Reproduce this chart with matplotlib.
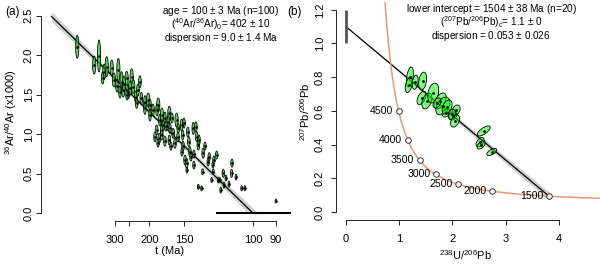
"""Ar-Ar inverse isochron (a) and Tera-Wasserburg common-Pb isochron (b)."""

import numpy as np
import matplotlib

matplotlib.use("Agg")
import matplotlib.pyplot as plt
from matplotlib.patches import Polygon

plt.rcParams["font.family"] = ["Liberation Sans", "DejaVu Sans"]
plt.rcParams["mathtext.fontset"] = "custom"
plt.rcParams["mathtext.rm"] = "Liberation Sans"
plt.rcParams["mathtext.it"] = "Liberation Sans:italic"
plt.rcParams["mathtext.bf"] = "Liberation Sans:bold"

W, H = 600, 264

# --- panel (a): 39Ar/40Ar (scaled so the 100 Ma intercept sits at 1) vs 36Ar/40Ar x1000
ar_x = [0.128, 0.212, 0.236, 0.262, 0.274, 0.299, 0.310, 0.332, 0.348, 0.356,
        0.373, 0.381, 0.398, 0.406, 0.419, 0.439, 0.446, 0.464, 0.480, 0.423,
        0.464, 0.489, 0.530, 0.538, 0.555, 0.585, 0.580, 0.588, 0.621, 0.629,
        0.646, 0.704, 0.717, 0.522, 0.514, 0.547, 0.535, 0.547, 0.585, 0.604,
        0.613, 0.651, 0.663, 0.671, 0.682, 0.687, 0.721, 0.707, 0.729, 0.753,
        0.750, 0.729, 0.745, 0.778, 0.783, 0.795, 0.803, 0.820, 0.828, 0.840,
        0.853, 0.894, 0.836, 0.856, 0.944, 1.114, 0.801, 0.653, 0.707, 0.866,
        0.881, 0.896, 0.960, 0.254, 0.360, 0.375, 0.390, 0.325, 0.340, 0.429,
        0.489, 0.504, 0.563, 0.598, 0.524, 0.548, 0.658, 0.568, 0.677, 0.628,
        0.593, 0.563, 0.529, 0.732, 0.762, 0.672, 0.692, 0.806, 0.916, 0.648]
ar_y = [2.105, 1.873, 1.987, 1.789, 1.852, 1.835, 1.684, 1.810, 1.662, 1.557,
        1.705, 1.535, 1.725, 1.599, 1.472, 1.662, 1.452, 1.409, 1.430, 1.389,
        1.325, 1.367, 1.367, 1.177, 1.114, 1.262, 1.156, 1.072, 1.177, 1.072,
        1.114, 1.072, 1.092, 1.051, 0.966, 0.987, 0.946, 1.051, 0.924, 1.009,
        0.882, 0.987, 0.671, 0.629, 0.903, 0.776, 0.966, 0.608, 0.861, 0.756,
        0.523, 0.333, 0.313, 0.649, 0.713, 0.418, 0.523, 0.734, 0.418, 0.291,
        0.503, 0.503, 0.418, 0.354, 0.313, 0.152, 0.608, 0.848, 0.747, 0.443,
        0.367, 0.633, 0.316, 1.709, 1.633, 1.494, 1.582, 1.608, 1.532, 1.557,
        1.241, 1.304, 1.203, 1.203, 1.304, 1.241, 1.139, 1.101, 1.025, 0.962,
        0.848, 0.911, 0.886, 0.924, 0.848, 0.544, 0.709, 0.671, 0.456, 0.772]
ar_sy = [0.146, 0.114, 0.203, 0.095, 0.127, 0.101, 0.089, 0.146, 0.127, 0.089,
         0.089, 0.089, 0.101, 0.089, 0.076, 0.076, 0.076, 0.076, 0.089, 0.063,
         0.076, 0.076, 0.089, 0.076, 0.076, 0.089, 0.076, 0.063, 0.089, 0.063,
         0.076, 0.076, 0.063, 0.063, 0.063, 0.063, 0.063, 0.063, 0.063, 0.063,
         0.063, 0.063, 0.063, 0.063, 0.063, 0.063, 0.063, 0.051, 0.063, 0.063,
         0.038, 0.032, 0.032, 0.051, 0.051, 0.032, 0.038, 0.051, 0.038, 0.038,
         0.051, 0.051, 0.032, 0.038, 0.032, 0.025, 0.038, 0.063, 0.051, 0.038,
         0.038, 0.051, 0.032, 0.076, 0.101, 0.063, 0.089, 0.076, 0.076, 0.076,
         0.076, 0.076, 0.076, 0.063, 0.076, 0.089, 0.063, 0.063, 0.063, 0.063,
         0.051, 0.063, 0.051, 0.063, 0.051, 0.038, 0.051, 0.051, 0.038, 0.051]
ar_sx = [0.008, 0.008, 0.008, 0.008, 0.008, 0.008, 0.008, 0.008, 0.008, 0.008,
         0.008, 0.008, 0.008, 0.008, 0.0065, 0.0065, 0.0065, 0.0065, 0.008, 0.0065,
         0.0065, 0.0065, 0.008, 0.0065, 0.0065, 0.008, 0.0065, 0.0065, 0.008, 0.0065,
         0.0065, 0.0065, 0.0065, 0.0065, 0.0065, 0.0065, 0.0065, 0.0065, 0.0065, 0.0065,
         0.0065, 0.0065, 0.0065, 0.0065, 0.0065, 0.0065, 0.0065, 0.006, 0.0065, 0.0065,
         0.0045, 0.0045, 0.0045, 0.006, 0.006, 0.0045, 0.0045, 0.006, 0.0045, 0.0045,
         0.006, 0.006, 0.0045, 0.0045, 0.0045, 0.004, 0.0045, 0.0065, 0.006, 0.0045,
         0.0045, 0.006, 0.0045, 0.0065, 0.008, 0.0065, 0.008, 0.0065, 0.0065, 0.0065,
         0.0065, 0.0065, 0.0065, 0.0065, 0.0065, 0.008, 0.0065, 0.0065, 0.0065, 0.0065,
         0.006, 0.0065, 0.006, 0.0065, 0.006, 0.0045, 0.006, 0.006, 0.0045, 0.006]

AR_AGE = 100.0          # isochron age, Ma
AR_Y0 = 1000.0 / 402.0  # 36/40 intercept (x1000)
AR_BAND = (0.025, 0.116, 0.5)  # min half-width, growth, centre
AR_DISP_BAR = 0.822     # left end of the dispersion bar on the x-axis
LAMBDA_40K = 5.543e-4
age_ticks = [300, 250, 200, 150, 100, 90]
age_labels = ["300", "", "200", "150", "100", "90"]
ar_notes = [
    r"age = 100 $\pm$ 3 Ma (n=100)",
    r"($^{40}$Ar/$^{36}$Ar$)_{\mathrm{0}}$= 402 $\pm$ 10",
    r"dispersion = 9.0 $\pm$ 1.4 Ma",
]

# --- panel (b): Tera-Wasserburg
tw_x = [1.20, 1.18, 1.44, 1.42, 1.52, 1.64, 1.77, 1.82, 1.88, 2.07,
        2.01, 2.05, 2.59, 2.52, 2.54, 2.74, 1.71, 1.90, 1.30, 1.99]
tw_y = [0.801, 0.754, 0.777, 0.677, 0.659, 0.706, 0.659, 0.629, 0.588, 0.605,
        0.570, 0.540, 0.481, 0.415, 0.398, 0.356, 0.647, 0.623, 0.770, 0.580]
tw_sx = [0.066, 0.066, 0.075, 0.085, 0.094, 0.103, 0.113, 0.132, 0.075, 0.075,
         0.075, 0.085, 0.122, 0.075, 0.075, 0.094, 0.075, 0.094, 0.056, 0.066]
tw_sy = [0.059, 0.045, 0.053, 0.039, 0.047, 0.059, 0.047, 0.053, 0.024, 0.030,
         0.024, 0.036, 0.030, 0.027, 0.024, 0.021, 0.030, 0.042, 0.042, 0.030]
tw_rho = [0.4, 0.4, 0.3, 0.5, 0.4, 0.3, 0.5, 0.4, 0.3, 0.3,
          0.3, 0.4, 0.7, 0.5, 0.5, 0.6, 0.4, 0.4, 0.3, 0.3]
PB_Y0 = 1.1             # common 207Pb/206Pb
PB_BAR = (1.0, 1.2)
PB_BAND = 0.0066        # band half-width per unit 238U/206Pb
LOWER_AGE = 1500.0
LAMBDA_238 = 1.55125e-4
LAMBDA_235 = 9.8485e-4
U238_U235 = 137.818
concordia_ages = [1500, 2000, 2500, 3000, 3500, 4000, 4500]
tw_notes = [
    r"lower intercept = 1504 $\pm$ 38 Ma (n=20)",
    r"($^{207}$Pb/$^{206}$Pb$)_{\mathrm{c}}$= 1.1 $\pm$ 0",
    r"dispersion = 0.053 $\pm$ 0.026",
]

FILL_A = (0.15, 0.78, 0.15, 0.75)
FILL_B = (0.0, 1.0, 0.0, 0.5)
SALMON = "#E9967A"
TICK_FS = 8
NOTE_FS = 7.2


def rect(x0, top, x1, bottom):
    return [x0 / W, 1 - bottom / H, (x1 - x0) / W, (bottom - top) / H]


def ellipse(ax, cx, cy, sx, sy, rho, fill, lw=0.6):
    t = np.linspace(0, 2 * np.pi, 60)
    x = cx + sx * np.cos(t)
    y = cy + sy * (rho * np.cos(t) + np.sqrt(1 - rho**2) * np.sin(t))
    ax.add_patch(Polygon(np.column_stack([x, y]), closed=True, facecolor=fill,
                         edgecolor="black", linewidth=lw, zorder=3))


def age_to_x(t):
    return np.expm1(LAMBDA_40K * AR_AGE) / np.expm1(LAMBDA_40K * np.asarray(t, float))


def concordia(t):
    t = np.asarray(t, float)
    e8 = np.expm1(LAMBDA_238 * t)
    e5 = np.expm1(LAMBDA_235 * t)
    return 1 / e8, e5 / e8 / U238_U235


def style_axes(ax):
    for side in ["top", "right"]:
        ax.spines[side].set_visible(False)
    for side in ["left", "bottom"]:
        ax.spines[side].set_linewidth(0.7)
        ax.spines[side].set_color("#222222")
    ax.tick_params(length=3.6, width=0.7, color="#222222", labelsize=TICK_FS)


def notes(fig, x, top, lines):
    # one text block, so the three lines keep R's tight spacing
    fig.text(x / W, 1 - top / H, "\n".join(lines), ha="center", va="top",
             multialignment="center", linespacing=0.88, fontsize=NOTE_FS)


def panel_a(fig):
    ax = fig.add_axes(rect(41, 7.6, 291, 221))
    ax.set_xlim(-0.052, 1.189)
    ax.set_ylim(-0.1, 2.6)
    style_axes(ax)

    xx = np.linspace(0, 1.08, 200)
    line = AR_Y0 * (1 - xx)
    a, b, x0 = AR_BAND
    hw = np.sqrt(a**2 + (b * (xx - x0)) ** 2)
    ax.fill_between(xx, np.clip(line - hw, 0, None), np.clip(line + hw, 0, None),
                    color="#cfcfcf", linewidth=0, zorder=1)
    ax.plot([0, 1], [AR_Y0, 0], color="black", linewidth=0.9, zorder=2)
    ax.plot([AR_DISP_BAR, 1.3], [0, 0], color="black", linewidth=1.5, zorder=2)

    for x, y, sx, sy in zip(ar_x, ar_y, ar_sx, ar_sy):
        ellipse(ax, x, y, sx, sy, 0.0, FILL_A, lw=0.55)
    ax.plot(ar_x, ar_y, "s", color="black", markersize=0.8, zorder=4)

    pos = age_to_x(age_ticks)
    ax.set_xticks(pos, age_labels)
    ax.spines["bottom"].set_bounds(pos[0], pos[-1])
    ax.set_yticks([0, 0.5, 1, 1.5, 2, 2.5], ["0.0", "0.5", "1.0", "1.5", "2.0", "2.5"])
    ax.spines["left"].set_bounds(0, 2.5)
    ax.tick_params(axis="y", labelrotation=90, pad=1.5)
    for lab in ax.get_yticklabels():
        lab.set_va("center")
    ax.tick_params(axis="x", pad=6.5)

    fig.text(170 / W, 1 - 251 / H, "t (Ma)", ha="center", va="center", fontsize=TICK_FS)
    fig.text(11 / W, 1 - 112 / H, r"$^{36}$Ar/$^{40}$Ar (x1000)", rotation=90,
             ha="center", va="center", fontsize=TICK_FS)
    fig.text(5 / W, 1 - 12 / H, "(a)", ha="left", va="center", fontsize=8.5)
    notes(fig, 221, 3.5, ar_notes)


def panel_b(fig):
    ax = fig.add_axes(rect(336, 1.7, 600, 220.1))
    ax.set_xlim(-0.188, 4.774)
    ax.set_ylim(-0.048, 1.248)
    style_axes(ax)

    xl, yl = concordia(LOWER_AGE)
    xx = np.linspace(0, xl, 100)
    line = PB_Y0 + (yl - PB_Y0) * xx / xl
    ax.fill_between(xx, line - PB_BAND * xx, line + PB_BAND * xx,
                    color="#cfcfcf", linewidth=0, zorder=1)
    ax.plot([0, xl], [PB_Y0, yl], color="black", linewidth=0.9, zorder=2)
    ax.plot([0, 0], PB_BAR, color="#555555", linewidth=2, solid_capstyle="butt",
            zorder=2)

    tt = np.linspace(1150, 6500, 400)
    cx, cy = concordia(tt)
    ax.plot(cx, cy, color=SALMON, linewidth=1.1, zorder=2)
    mx, my = concordia(concordia_ages)
    ax.plot(mx, my, "o", markersize=4, markerfacecolor="white",
            markeredgecolor="#333333", markeredgewidth=0.7, zorder=5)
    for age, x, y in zip(concordia_ages, mx, my):
        ax.annotate(str(age), (x, y), textcoords="offset points", xytext=(-4, 0),
                    ha="right", va="center", fontsize=7.6)

    for x, y, sx, sy, r in zip(tw_x, tw_y, tw_sx, tw_sy, tw_rho):
        ellipse(ax, x, y, sx, sy, r, FILL_B, lw=0.6)
    ax.plot(tw_x, tw_y, "s", color="black", markersize=0.9, zorder=4)

    ax.set_xticks([0, 1, 2, 3, 4])
    ax.spines["bottom"].set_bounds(0, 4)
    ax.set_yticks([0, 0.2, 0.4, 0.6, 0.8, 1.0, 1.2],
                  ["0.0", "0.2", "0.4", "0.6", "0.8", "1.0", "1.2"])
    ax.spines["left"].set_bounds(0, 1.2)
    ax.tick_params(axis="y", labelrotation=90, pad=4.5)
    for lab in ax.get_yticklabels():
        lab.set_va("center")
    ax.tick_params(axis="x", pad=6.5)

    fig.text(466 / W, 1 - 255 / H, r"$^{238}$U/$^{206}$Pb", ha="center",
             va="center", fontsize=TICK_FS)
    fig.text(305 / W, 1 - 112 / H, r"$^{207}$Pb/$^{206}$Pb", rotation=90,
             ha="center", va="center", fontsize=TICK_FS)
    fig.text(287 / W, 1 - 12 / H, "(b)", ha="left", va="center", fontsize=8.5)
    notes(fig, 491, 1.5, tw_notes)


def main():
    fig = plt.figure(figsize=(W / 100, H / 100), dpi=100)
    panel_a(fig)
    panel_b(fig)
    fig.savefig("out.png", dpi=100)
    plt.close(fig)


if __name__ == "__main__":
    main()
